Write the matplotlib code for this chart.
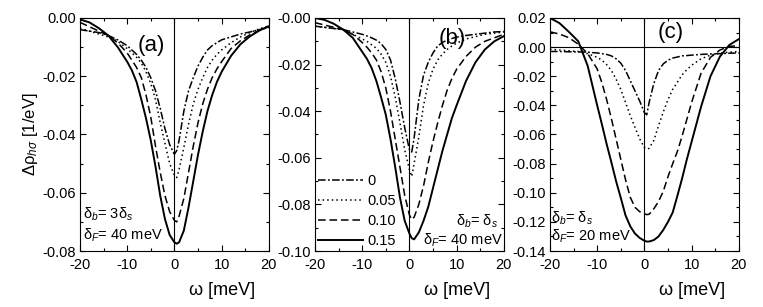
import numpy as np
import matplotlib
matplotlib.use("Agg")
import matplotlib.pyplot as plt
from matplotlib.ticker import MultipleLocator, FormatStrFormatter

plt.rcParams['font.family'] = 'Liberation Sans'
plt.rcParams['mathtext.fontset'] = 'custom'
plt.rcParams['mathtext.rm'] = 'Liberation Sans'
plt.rcParams['mathtext.it'] = 'Liberation Sans:italic'
plt.rcParams['axes.unicode_minus'] = False

# omega grid [meV], shared by all curves
omega = [-20, -18, -16, -14, -12, -10, -9, -8, -7, -6, -5, -4, -3, -2, -1, 0, 0.5,
         1, 2, 3, 4, 5, 6, 7, 8, 9, 10, 12, 14, 16, 18, 20]

labels = ['0', '0.05', '0.10', '0.15']

# panel (a): delta_b = 3 delta_s, delta_F = 40 meV
a_000 = [-0.004, -0.0045, -0.005, -0.006, -0.0075, -0.0095, -0.011, -0.0125, -0.0145, -0.017,
         -0.0205, -0.025, -0.031, -0.038, -0.0435, -0.0468, -0.0455, -0.042, -0.032, -0.025,
         -0.0205, -0.0165, -0.0135, -0.011, -0.0095, -0.0085, -0.0075, -0.0065, -0.0055,
         -0.0048, -0.004, -0.0033]
a_005 = [-0.0035, -0.0045, -0.0055, -0.0065, -0.008, -0.0105, -0.012, -0.0135, -0.0155, -0.0185,
         -0.0225, -0.028, -0.036, -0.043, -0.050, -0.054, -0.0548, -0.052, -0.0445, -0.0365,
         -0.0295, -0.0245, -0.0205, -0.017, -0.0145, -0.0125, -0.011, -0.0085, -0.0065,
         -0.005, -0.0037, -0.0027]
a_010 = [-0.0015, -0.003, -0.0045, -0.006, -0.0085, -0.012, -0.0145, -0.017, -0.0205, -0.0265,
         -0.034, -0.044, -0.053, -0.061, -0.0665, -0.0695, -0.070, -0.068, -0.062, -0.053,
         -0.044, -0.036, -0.0295, -0.0245, -0.0205, -0.0175, -0.015, -0.0105, -0.0078,
         -0.0058, -0.0042, -0.003]
a_015 = [-0.0005, -0.0015, -0.0035, -0.006, -0.010, -0.015, -0.018, -0.022, -0.028, -0.0345,
         -0.042, -0.051, -0.061, -0.069, -0.0745, -0.077, -0.0775, -0.077, -0.073, -0.065,
         -0.056, -0.047, -0.039, -0.032, -0.0265, -0.022, -0.0185, -0.013, -0.009,
         -0.0063, -0.0043, -0.0028]

# panel (b): delta_b = delta_s, delta_F = 40 meV
b_000 = [-0.0035, -0.004, -0.0045, -0.005, -0.006, -0.007, -0.0077, -0.0085, -0.0095, -0.011,
         -0.0135, -0.018, -0.026, -0.036, -0.047, -0.0565, -0.0575, -0.0515, -0.035, -0.0245,
         -0.019, -0.015, -0.012, -0.0105, -0.0095, -0.0088, -0.0082, -0.0075, -0.007,
         -0.0065, -0.006, -0.0058]
b_005 = [-0.0035, -0.004, -0.0045, -0.005, -0.007, -0.009, -0.010, -0.0115, -0.013, -0.0155,
         -0.019, -0.025, -0.034, -0.045, -0.0565, -0.065, -0.068, -0.0625, -0.051, -0.0375,
         -0.028, -0.022, -0.018, -0.0155, -0.0135, -0.012, -0.0108, -0.009, -0.008,
         -0.007, -0.0065, -0.006]
b_010 = [-0.002, -0.003, -0.004, -0.005, -0.007, -0.0105, -0.0125, -0.015, -0.018, -0.023,
         -0.030, -0.040, -0.052, -0.064, -0.076, -0.0845, -0.0865, -0.0855, -0.080, -0.072,
         -0.062, -0.053, -0.045, -0.0375, -0.031, -0.026, -0.022, -0.0165, -0.0125,
         -0.010, -0.0085, -0.007]
b_015 = [0.0, -0.0008, -0.0025, -0.005, -0.0085, -0.0145, -0.0175, -0.0215, -0.027, -0.034,
         -0.0415, -0.052, -0.064, -0.077, -0.087, -0.0925, -0.0945, -0.095, -0.092, -0.087,
         -0.081, -0.073, -0.065, -0.057, -0.050, -0.043, -0.0375, -0.027, -0.019,
         -0.0135, -0.010, -0.0078]

# panel (c): delta_b = delta_s, delta_F = 20 meV
c_000 = [-0.003, -0.003, -0.0032, -0.0033, -0.0035, -0.004, -0.0045, -0.005, -0.006, -0.008,
         -0.011, -0.016, -0.023, -0.030, -0.037, -0.045, -0.0465, -0.038, -0.025, -0.016,
         -0.0115, -0.009, -0.0075, -0.0068, -0.006, -0.0058, -0.0055, -0.005, -0.0047,
         -0.0045, -0.0042, -0.004]
c_005 = [-0.0015, -0.002, -0.0025, -0.003, -0.0045, -0.007, -0.009, -0.012, -0.016, -0.022,
         -0.029, -0.038, -0.047, -0.055, -0.063, -0.069, -0.070, -0.0695, -0.064, -0.054,
         -0.0445, -0.036, -0.029, -0.024, -0.019, -0.0155, -0.0125, -0.008, -0.0055,
         -0.004, -0.0035, -0.003]
c_010 = [0.0105, 0.009, 0.0065, 0.002, -0.0045, -0.015, -0.0245, -0.036, -0.049, -0.063,
         -0.077, -0.091, -0.103, -0.110, -0.113, -0.1145, -0.115, -0.1148, -0.111, -0.106,
         -0.099, -0.089, -0.080, -0.0715, -0.061, -0.0495, -0.038, -0.018, -0.007,
         -0.002, 0.0005, 0.001]
c_015 = [0.020, 0.0165, 0.0105, 0.004, -0.013, -0.040, -0.053, -0.0665, -0.079, -0.092,
         -0.1035, -0.1155, -0.123, -0.128, -0.131, -0.133, -0.1335, -0.1335, -0.1325, -0.130,
         -0.1255, -0.120, -0.1135, -0.102, -0.090, -0.077, -0.065, -0.041, -0.020,
         -0.0065, 0.0015, 0.0055]

styles = [dict(ls=(0, (5, 1.5, 1.2, 1.5)), lw=1.1),
          dict(ls=(0, (1, 2)), lw=1.1),
          dict(ls=(0, (5, 2.5)), lw=1.1),
          dict(ls='-', lw=1.4)]

fig = plt.figure(figsize=(7.63, 3.07), dpi=100)
lefts = [0.1048, 0.4128, 0.7208]
axes = [fig.add_axes([l, 0.1824, 0.2475, 0.759]) for l in lefts]

panels = [
    (axes[0], [a_000, a_005, a_010, a_015], (-0.08, 0.0)),
    (axes[1], [b_000, b_005, b_010, b_015], (-0.10, 0.0)),
    (axes[2], [c_000, c_005, c_010, c_015], (-0.14, 0.02)),
]

for ax, series, ylim in panels:
    for ys, st, lab in zip(series, styles, labels):
        ax.plot(omega, ys, color='black', label=lab, **st)
    ax.axvline(0, color='black', lw=0.8)
    ax.set_xlim(-20, 20)
    ax.set_ylim(*ylim)
    ax.xaxis.set_major_locator(MultipleLocator(10))
    ax.xaxis.set_minor_locator(MultipleLocator(5))
    ax.yaxis.set_major_locator(MultipleLocator(0.02))
    ax.yaxis.set_minor_locator(MultipleLocator(0.01))
    ax.yaxis.set_major_formatter(FormatStrFormatter('%.2f'))
    ax.tick_params(which='both', direction='in', top=True, right=True, labelsize=10.5)
    ax.tick_params(which='major', length=4, width=0.8)
    ax.tick_params(which='minor', length=2, width=0.8)
    ax.tick_params(axis='x', which='major', pad=5)
    ax.tick_params(axis='y', which='major', pad=3)
    ax.set_xlabel('ω [meV]', fontsize=13)
    ax.xaxis.set_label_coords(0.75, -0.135)
    for sp in ax.spines.values():
        sp.set_linewidth(0.8)

axes[2].axhline(0, color='black', lw=0.8)

axes[0].set_ylabel(r'Δρ$_{hσ}$ [1/eV]', fontsize=12, labelpad=2)

axes[0].text(0.378, 0.884, '(a)', transform=axes[0].transAxes, fontsize=16, ha='center', va='center')
axes[1].text(0.726, 0.914, '(b)', transform=axes[1].transAxes, fontsize=16, ha='center', va='center')
axes[2].text(0.64, 0.936, '(c)', transform=axes[2].transAxes, fontsize=16, ha='center', va='center')

fs = 10.5
axes[0].text(0.016, 0.159, 'δ$_b$= 3δ$_s$', transform=axes[0].transAxes, fontsize=fs, va='center')
axes[0].text(0.016, 0.069, 'δ$_F$= 40 meV', transform=axes[0].transAxes, fontsize=fs, va='center')
axes[1].text(0.97, 0.129, 'δ$_b$= δ$_s$', transform=axes[1].transAxes, fontsize=fs, va='center', ha='right')
axes[1].text(0.995, 0.047, 'δ$_F$= 40 meV', transform=axes[1].transAxes, fontsize=fs, va='center', ha='right')
axes[2].text(0.008, 0.142, 'δ$_b$= δ$_s$', transform=axes[2].transAxes, fontsize=fs, va='center')
axes[2].text(0.008, 0.064, 'δ$_F$= 20 meV', transform=axes[2].transAxes, fontsize=fs, va='center')

axes[1].legend(loc='lower left', frameon=False, fontsize=10.5, handlelength=3.1,
               handletextpad=0.3, labelspacing=0.42, borderaxespad=0.1, borderpad=0.1)

fig.savefig('out.png', dpi=100)
